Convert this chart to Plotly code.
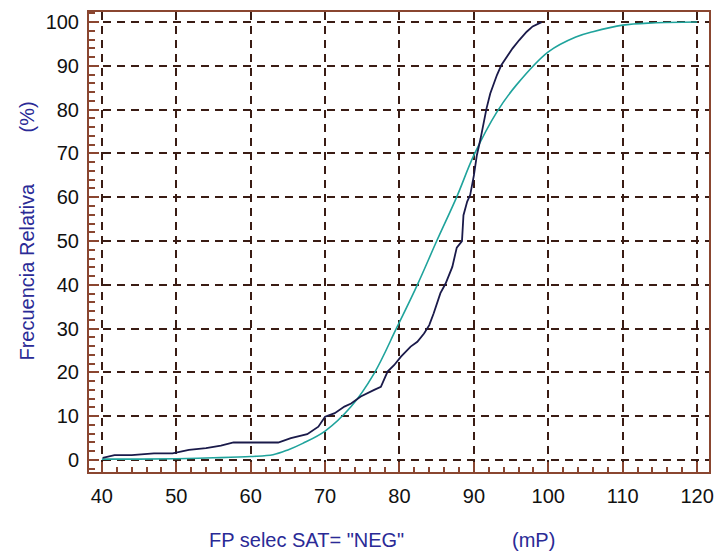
import plotly.graph_objects as go

# Empirical cumulative frequency (step-like sample curve)
emp_x = [40.1, 41.7, 44.0, 47.0, 49.5, 51.7, 54.0, 56.0, 57.7, 60.0, 63.7, 65.4, 67.6,
         69.1, 70.0, 71.3, 72.6, 73.5, 74.8, 76.6, 77.5, 78.4, 79.3, 80.2, 81.5, 82.4,
         83.3, 84.0, 84.6, 85.5, 86.2, 87.1, 87.7, 88.4, 88.6, 89.1, 89.5, 90.0, 90.4,
         90.9, 91.3, 91.7, 92.2, 93.1, 93.7, 94.4, 95.2, 96.1, 97.1, 97.9, 99.1]
emp_y = [0.5, 1.1, 1.1, 1.5, 1.5, 2.3, 2.7, 3.3, 4.0, 4.0, 4.0, 5.0, 5.9,
         7.6, 9.9, 10.7, 12.2, 12.9, 14.5, 16.0, 16.7, 20.2, 21.7, 23.6, 25.9, 27.0,
         28.9, 30.8, 33.5, 38.1, 40.3, 44.1, 48.5, 50.0, 55.9, 59.0, 60.5, 65.0, 69.6,
         73.4, 77.2, 80.3, 83.7, 87.9, 90.2, 92.1, 94.0, 95.9, 97.8, 99.0, 100.0]

# Fitted cumulative distribution (smooth curve)
fit_x = [40, 45, 50, 55, 60, 63, 65, 67, 70, 73.5, 76.6, 79.6, 82.4, 85, 87.7, 90,
         93.1, 95.7, 100, 103.7, 106, 110, 114, 120]
fit_y = [0.2, 0.2, 0.3, 0.5, 0.8, 1.2, 2.3, 3.8, 6.6, 12.2, 19.8, 30.1, 40.0, 50.0,
         60.1, 69.6, 79.5, 85.6, 93.2, 96.6, 97.8, 99.3, 99.8, 100.0]

x_ticks = [40, 50, 60, 70, 80, 90, 100, 110, 120]
y_ticks = [0, 10, 20, 30, 40, 50, 60, 70, 80, 90, 100]

FONT = "Liberation Sans, Arial, sans-serif"
FRAME = "#8a4630"
GRID = "#3a1c14"
TITLE_COLOR = "#2a2a96"

fig = go.Figure()
fig.add_trace(go.Scatter(x=fit_x, y=fit_y, mode="lines", line_shape="spline",
                         line=dict(color="#1fa39c", width=1.6), showlegend=False))
fig.add_trace(go.Scatter(x=emp_x, y=emp_y, mode="lines",
                         line=dict(color="#1a1a4a", width=1.8), showlegend=False))

fig.update_xaxes(
    range=[38.27, 121.6], tickvals=x_ticks, ticks="inside", ticklen=10, tickwidth=1.5,
    tickcolor=FRAME, showline=True, linecolor=FRAME, linewidth=2, mirror=True,
    showgrid=True, gridcolor=GRID, griddash="8px,6px", gridwidth=1.5, zeroline=False,
    minor=dict(dtick=2, ticks="inside", ticklen=5, tickcolor=FRAME, tickwidth=1.5, showgrid=False),
    tickfont=dict(family=FONT, size=20, color="#111111"), ticklabelstandoff=5,
)
fig.update_yaxes(
    range=[-2.74, 102.3], tickvals=y_ticks, ticks="inside", ticklen=10, tickwidth=1.5,
    tickcolor=FRAME, showline=True, linecolor=FRAME, linewidth=2, mirror=True,
    showgrid=True, gridcolor=GRID, griddash="8px,6px", gridwidth=1.5, zeroline=False,
    minor=dict(dtick=2, ticks="inside", ticklen=6, tickcolor=FRAME, tickwidth=1.5, showgrid=False),
    tickfont=dict(family=FONT, size=20, color="#111111"), ticklabelstandoff=4,
)

fig.update_layout(
    width=720, height=555,
    margin=dict(l=89, r=6, t=12, b=83),
    paper_bgcolor="white", plot_bgcolor="white",
    font=dict(family=FONT, size=20, color=TITLE_COLOR),
)

# Axis titles, placed in paper coordinates around the plot frame
title_font = dict(family=FONT, size=20, color=TITLE_COLOR)
fig.add_annotation(text='FP selec SAT= "NEG"', xref="paper", yref="paper",
                   x=(208 - 89) / 625, y=-(540 - 472) / 460, xanchor="left", yanchor="middle",
                   showarrow=False, font=title_font)
fig.add_annotation(text="(mP)", xref="paper", yref="paper",
                   x=(513 - 89) / 625, y=-(540 - 472) / 460, xanchor="left", yanchor="middle",
                   showarrow=False, font=title_font)
fig.add_annotation(text="Frecuencia Relativa", xref="paper", yref="paper", textangle=-90,
                   x=-(89 - 26) / 625, y=(472 - 272) / 460, xanchor="center", yanchor="middle",
                   showarrow=False, font=title_font)
fig.add_annotation(text="(%)", xref="paper", yref="paper", textangle=-90,
                   x=-(89 - 26) / 625, y=(472 - 117) / 460, xanchor="center", yanchor="middle",
                   showarrow=False, font=title_font)

fig.write_html("out.html")
